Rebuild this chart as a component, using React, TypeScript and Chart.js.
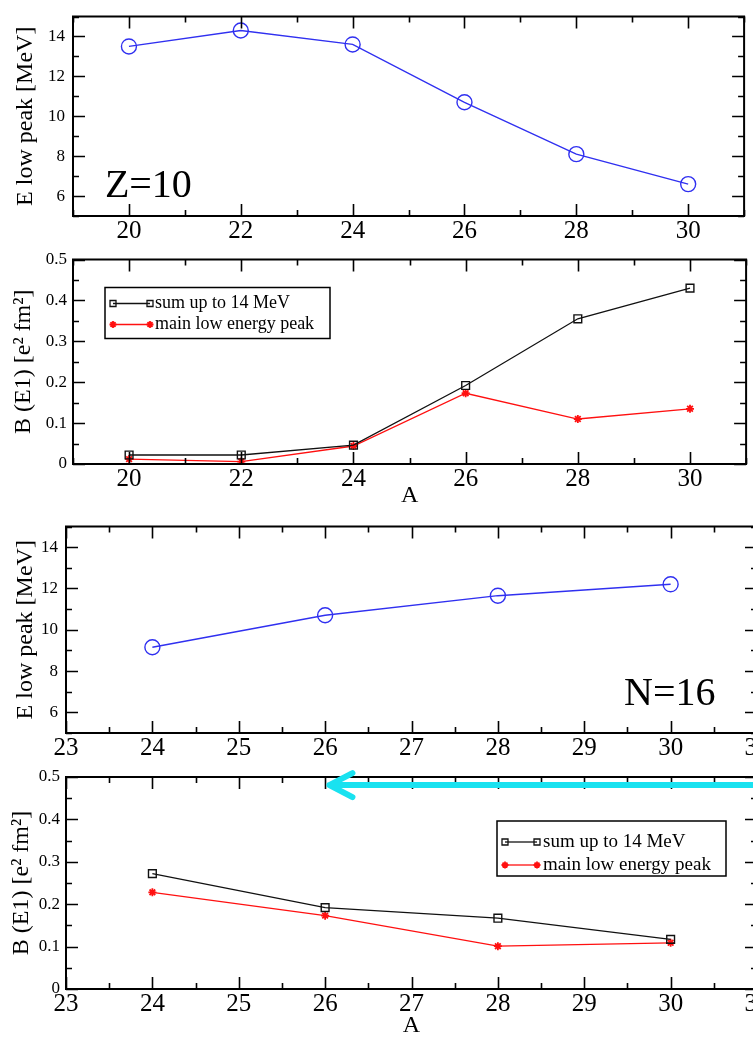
import React, { useEffect, useRef } from 'react';
import { Chart, registerables } from 'chart.js';

Chart.register(...registerables);

// ---- data ----
const zMassNumbers = [20, 22, 24, 26, 28, 30];
const zLowPeakEnergy = [13.5, 14.3, 13.6, 10.7, 8.1, 6.6];
const zSumStrength = [0.022, 0.022, 0.046, 0.192, 0.355, 0.43];
const zPeakStrength = [0.012, 0.006, 0.044, 0.173, 0.11, 0.135];

const nMassNumbers = [24, 26, 28, 30];
const nLowPeakEnergy = [9.15, 10.7, 11.65, 12.2];
const nSumStrength = [0.272, 0.192, 0.167, 0.117];
const nPeakStrength = [0.228, 0.173, 0.101, 0.109];

const seriesLabels = ['sum up to 14 MeV', 'main low energy peak'];
const energyTitle = 'E low peak [MeV]';
const strengthTitle = 'B (E1) [e\u00b2 fm\u00b2]';
const massTitle = 'A';
const zNote = 'Z=10';
const nNote = 'N=16';

const SERIF = '"Liberation Serif", "Times New Roman", serif';
const BLUE = '#3030f0';
const RED = '#ff1010';
const BLACK = '#111111';
const CYAN = '#19e2f0';

// ---- plugins ----
const framePlugin = {
  id: 'frame',
  afterDraw(chart: any) {
    const { ctx, chartArea: a, scales } = chart;
    const xs = scales.x;
    const ys = scales.y;
    ctx.save();
    ctx.strokeStyle = '#000';
    ctx.lineWidth = 1.6;
    ctx.beginPath();
    xs.ticks.forEach((t: any) => {
      const px = Math.round(xs.getPixelForValue(t.value)) + 0.5;
      const len = t.label !== '' ? 12 : 6;
      ctx.moveTo(px, a.bottom);
      ctx.lineTo(px, a.bottom - len);
      ctx.moveTo(px, a.top);
      ctx.lineTo(px, a.top + len);
    });
    ys.ticks.forEach((t: any) => {
      const py = Math.round(ys.getPixelForValue(t.value)) + 0.5;
      const len = t.label !== '' ? 12 : 6;
      ctx.moveTo(a.left, py);
      ctx.lineTo(a.left + len, py);
      ctx.moveTo(a.right, py);
      ctx.lineTo(a.right - len, py);
    });
    ctx.stroke();
    ctx.lineWidth = 2;
    ctx.strokeRect(a.left, a.top, a.right - a.left, a.bottom - a.top);
    ctx.restore();
  },
};

const notePlugin = {
  id: 'note',
  afterDraw(chart: any, _args: any, opts: any) {
    if (!opts || !opts.text) return;
    const { ctx, scales } = chart;
    const x = scales.x.getPixelForValue(opts.x);
    const y = scales.y.getPixelForValue(opts.y);
    ctx.save();
    ctx.fillStyle = '#000';
    ctx.font = `${opts.size}px ${SERIF}`;
    ctx.textAlign = opts.align;
    ctx.textBaseline = 'alphabetic';
    ctx.fillText(opts.text, x, y);
    ctx.restore();
  },
};

function drawMarker(ctx: any, style: string, x: number, y: number, r: number) {
  ctx.beginPath();
  if (style === 'rect') {
    ctx.rect(x - r, y - r, 2 * r, 2 * r);
  } else if (style === 'star') {
    for (let k = 0; k < 4; k++) {
      const ang = (k * Math.PI) / 4;
      ctx.moveTo(x - Math.cos(ang) * r, y - Math.sin(ang) * r);
      ctx.lineTo(x + Math.cos(ang) * r, y + Math.sin(ang) * r);
    }
  }
  ctx.stroke();
}

const boxLegendPlugin = {
  id: 'boxLegend',
  afterDraw(chart: any, _args: any, opts: any) {
    if (!opts || !opts.w) return;
    const { ctx, chartArea: a } = chart;
    const bx = a.left + opts.x;
    const by = a.top + opts.y;
    ctx.save();
    ctx.fillStyle = '#fff';
    ctx.fillRect(bx, by, opts.w, opts.h);
    ctx.strokeStyle = '#000';
    ctx.lineWidth = 1.5;
    ctx.strokeRect(bx, by, opts.w, opts.h);
    chart.data.datasets.forEach((ds: any, i: number) => {
      const ry = by + opts.rows[i];
      const x0 = bx + opts.line[0];
      const x1 = bx + opts.line[1];
      ctx.strokeStyle = ds.borderColor;
      ctx.lineWidth = 1.3;
      ctx.beginPath();
      ctx.moveTo(x0, ry);
      ctx.lineTo(x1, ry);
      ctx.stroke();
      ctx.lineWidth = ds.pointStyle === 'star' ? 1.8 : 1.3;
      const mr = ds.pointStyle === 'star' ? 3.5 : 3;
      drawMarker(ctx, ds.pointStyle, x0, ry, mr);
      drawMarker(ctx, ds.pointStyle, x1, ry, mr);
      ctx.fillStyle = '#000';
      ctx.font = `${opts.size}px ${SERIF}`;
      ctx.textAlign = 'left';
      ctx.textBaseline = 'middle';
      ctx.fillText(ds.label, bx + opts.textX, ry);
    });
    ctx.restore();
  },
};

const arrowPlugin = {
  id: 'arrow',
  afterDraw(chart: any, _args: any, opts: any) {
    if (!opts || opts.toX === undefined) return;
    const { ctx, scales } = chart;
    const x0 = scales.x.getPixelForValue(opts.fromX);
    const x1 = scales.x.getPixelForValue(opts.toX);
    const y = scales.y.getPixelForValue(opts.y);
    ctx.save();
    ctx.strokeStyle = CYAN;
    ctx.lineWidth = 6;
    ctx.lineCap = 'round';
    ctx.lineJoin = 'round';
    ctx.beginPath();
    ctx.moveTo(x0, y);
    ctx.lineTo(x1, y);
    ctx.moveTo(x1 + 23, y - 12);
    ctx.lineTo(x1, y);
    ctx.lineTo(x1 + 23, y + 12);
    ctx.stroke();
    ctx.restore();
  },
};

// ---- helpers ----
const pts = (xs: number[], ys: number[]) => xs.map((x, i) => ({ x, y: ys[i] }));

const energySet = (xs: number[], ys: number[]) => ({
  label: energyTitle,
  data: pts(xs, ys),
  borderColor: BLUE,
  backgroundColor: 'transparent',
  borderWidth: 1.4,
  pointStyle: 'circle',
  pointRadius: 7.5,
  pointBorderWidth: 1.4,
  pointBorderColor: BLUE,
  pointBackgroundColor: 'transparent',
  tension: 0,
});

const strengthSets = (xs: number[], sum: number[], peak: number[]) => [
  {
    label: seriesLabels[0],
    data: pts(xs, sum),
    borderColor: BLACK,
    backgroundColor: 'transparent',
    borderWidth: 1.3,
    pointStyle: 'rect',
    pointRadius: 5.5,
    pointBorderWidth: 1.4,
    pointBorderColor: BLACK,
    pointBackgroundColor: 'transparent',
    tension: 0,
  },
  {
    label: seriesLabels[1],
    data: pts(xs, peak),
    borderColor: RED,
    backgroundColor: 'transparent',
    borderWidth: 1.3,
    pointStyle: 'star',
    pointRadius: 4,
    pointBorderWidth: 1.8,
    pointBorderColor: RED,
    pointBackgroundColor: RED,
    tension: 0,
  },
];

const evenLabel = (v: number) => (Math.round(v) === v && v % 2 === 0 ? String(v) : '');
const intLabel = (v: number) => (Math.round(v) === v ? String(v) : '');
const tenthLabel = (v: number) => {
  const k = Math.round(v * 100);
  return k % 10 === 0 ? String(k / 100) : '';
};

type PanelSpec = {
  top: number;
  width: number;
  height: number;
  padTop: number;
  padRight: number;
  yWidth: number;
  xHeight: number;
  xMin: number;
  xMax: number;
  xStep: number;
  xLabel: (v: number) => string;
  xPad: number;
  yMin: number;
  yMax: number;
  yStep: number;
  yLabel: (v: number) => string;
  yPad: number;
  yTitle: string;
  yTitlePad: number;
  xTitle?: string;
  datasets: any[];
  note?: any;
  legend?: any;
  arrow?: any;
};

function buildConfig(p: PanelSpec): any {
  return {
    type: 'line',
    data: { datasets: p.datasets },
    options: {
      animation: false,
      responsive: false,
      events: [],
      layout: { padding: { top: p.padTop, right: p.padRight, left: 0, bottom: 0 } },
      plugins: {
        legend: { display: false },
        tooltip: { enabled: false },
        title: { display: false },
        note: p.note || {},
        boxLegend: p.legend || {},
        arrow: p.arrow || {},
      },
      scales: {
        x: {
          type: 'linear',
          min: p.xMin,
          max: p.xMax,
          afterFit: (s: any) => {
            s.height = p.xHeight;
          },
          grid: { display: false, drawTicks: false },
          border: { display: false },
          ticks: {
            stepSize: p.xStep,
            autoSkip: false,
            maxRotation: 0,
            minRotation: 0,
            padding: p.xPad,
            color: '#000',
            font: { family: SERIF, size: 25 },
            callback: (v: any) => p.xLabel(Number(v)),
          },
          title: p.xTitle
            ? {
                display: true,
                text: p.xTitle,
                color: '#000',
                font: { family: SERIF, size: 24 },
                padding: { top: 0, bottom: 0 },
              }
            : { display: false },
        },
        y: {
          type: 'linear',
          min: p.yMin,
          max: p.yMax,
          afterFit: (s: any) => {
            s.width = p.yWidth;
          },
          grid: { display: false, drawTicks: false },
          border: { display: false },
          ticks: {
            stepSize: p.yStep,
            autoSkip: false,
            padding: p.yPad,
            color: '#000',
            font: { family: SERIF, size: 17, lineHeight: 1 },
            callback: (v: any) => p.yLabel(Number(v)),
          },
          title: {
            display: true,
            text: p.yTitle,
            color: '#000',
            font: { family: SERIF, size: 24 },
            padding: { top: p.yTitlePad, bottom: 0 },
          },
        },
      },
    },
    plugins: [framePlugin, notePlugin, boxLegendPlugin, arrowPlugin],
  };
}

const panels: PanelSpec[] = [
  {
    top: 0,
    width: 753,
    height: 245,
    padTop: 9,
    padRight: 1,
    yWidth: 73,
    xHeight: 29,
    xMin: 19,
    xMax: 31,
    xStep: 1,
    xLabel: evenLabel,
    xPad: 0,
    yMin: 5,
    yMax: 15,
    yStep: 1,
    yLabel: evenLabel,
    yPad: 8,
    yTitle: energyTitle,
    yTitlePad: 11,
    datasets: [energySet(zMassNumbers, zLowPeakEnergy)],
    note: { text: zNote, x: 19.57, y: 5.93, size: 40, align: 'left' },
  },
  {
    top: 245,
    width: 753,
    height: 265,
    padTop: 14,
    padRight: 1,
    yWidth: 73,
    xHeight: 46,
    xMin: 19,
    xMax: 31,
    xStep: 1,
    xLabel: evenLabel,
    xPad: 0,
    yMin: 0,
    yMax: 0.5,
    yStep: 0.05,
    yLabel: tenthLabel,
    yPad: 6,
    yTitle: strengthTitle,
    yTitlePad: 9,
    xTitle: massTitle,
    datasets: strengthSets(zMassNumbers, zSumStrength, zPeakStrength),
    legend: { x: 32, y: 28, w: 225, h: 51, rows: [16, 37], line: [8, 45], textX: 50, size: 18 },
  },
  {
    top: 510,
    width: 790,
    height: 250,
    padTop: 12,
    padRight: 33,
    yWidth: 66,
    xHeight: 27,
    xMin: 23,
    xMax: 31,
    xStep: 0.5,
    xLabel: intLabel,
    xPad: 0,
    yMin: 5,
    yMax: 15,
    yStep: 1,
    yLabel: evenLabel,
    yPad: 8,
    yTitle: energyTitle,
    yTitlePad: 11,
    datasets: [energySet(nMassNumbers, nLowPeakEnergy)],
    note: { text: nNote, x: 30.52, y: 6.34, size: 40, align: 'right' },
  },
  {
    top: 760,
    width: 790,
    height: 280,
    padTop: 17,
    padRight: 33,
    yWidth: 66,
    xHeight: 51,
    xMin: 23,
    xMax: 31,
    xStep: 0.5,
    xLabel: intLabel,
    xPad: 0,
    yMin: 0,
    yMax: 0.5,
    yStep: 0.05,
    yLabel: tenthLabel,
    yPad: 6,
    yTitle: strengthTitle,
    yTitlePad: 7,
    xTitle: massTitle,
    datasets: strengthSets(nMassNumbers, nSumStrength, nPeakStrength),
    legend: { x: 431, y: 44, w: 229, h: 55, rows: [21, 44], line: [8, 40], textX: 46, size: 19 },
    arrow: { fromX: 31.5, toX: 26.05, y: 0.481 },
  },
];

function Panel({ spec }: { spec: PanelSpec }) {
  const ref = useRef<HTMLCanvasElement | null>(null);
  useEffect(() => {
    if (!ref.current) return;
    const chart = new Chart(ref.current, buildConfig(spec));
    return () => chart.destroy();
  }, [spec]);
  return (
    <canvas
      ref={ref}
      width={spec.width}
      height={spec.height}
      style={{ position: 'absolute', left: 0, top: spec.top, width: spec.width, height: spec.height }}
    />
  );
}

export default function App() {
  return (
    <div
      style={{
        position: 'fixed',
        left: 0,
        top: 0,
        width: 753,
        height: 1037,
        overflow: 'hidden',
        background: '#fff',
      }}
    >
      {panels.map((p, i) => (
        <Panel key={i} spec={p} />
      ))}
    </div>
  );
}
